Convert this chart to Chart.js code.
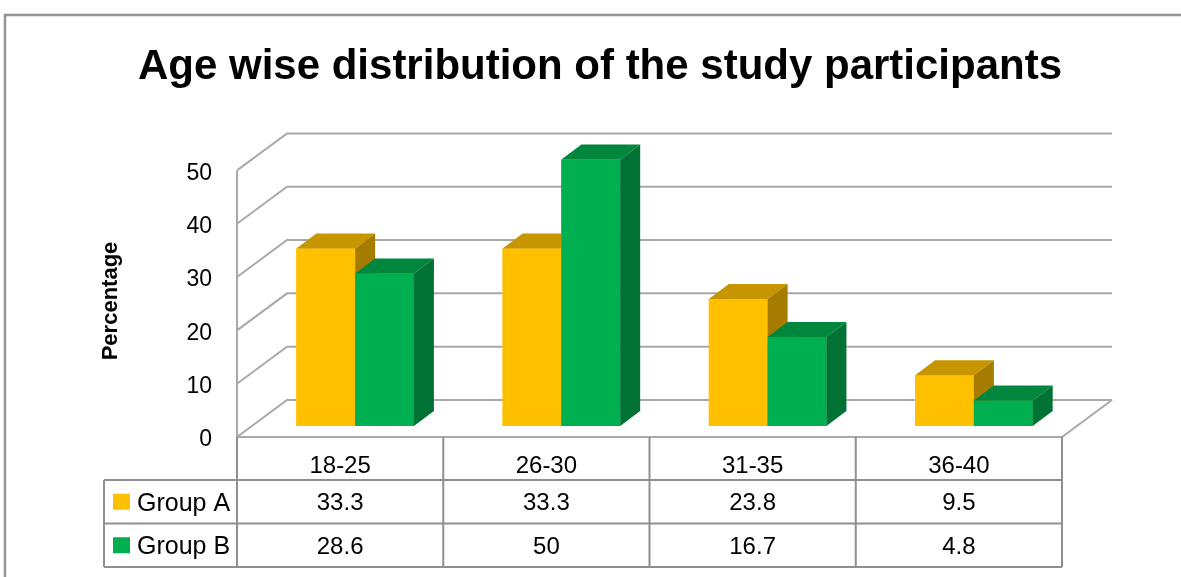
<!DOCTYPE html>
<html><head><meta charset="utf-8">
<script src="https://cdn.jsdelivr.net/npm/chart.js@4"></script>
<style>html,body{margin:0;padding:0;background:#fff;} #wrap{width:1181px;height:577px;position:relative;}</style>
</head><body><div id="wrap"><canvas id="c" width="1181" height="577"></canvas></div>
<script>
// ---- data ----
const titleText = 'Age wise distribution of the study participants';
const yTitleText = 'Percentage';
const categories = ['18-25', '26-30', '31-35', '36-40'];
const seriesNames = ['Group A', 'Group B'];
const groupA = [33.3, 33.3, 23.8, 9.5];
const groupB = [28.6, 50, 16.7, 4.8];
const yTicks = [0, 10, 20, 30, 40, 50];

// ---- style ----
const FONT = "'Liberation Sans', Arial, sans-serif";
const FR = {dx: -15, dy: 11};   // front plane offset from bar plane
const BK = {dx: 35, dy: -26};   // back wall offset from bar plane
const DP = {dx: 20, dy: -15};   // bar depth
const COLORS = {
  front: ['#FFC000', '#00B050'],
  top: ['#C69500', '#00863D'],
  side: ['#A67C00', '#007233']
};
const GRID = '#a9a9a9';
const TABLE = '#8f8f8f';

const threeD = {
  id: 'threeD',
  beforeDatasetsDraw(chart) {
    const {ctx, chartArea: a, scales: {y}} = chart;
    ctx.save();
    ctx.strokeStyle = GRID; ctx.lineWidth = 2;
    yTicks.forEach(v => {
      const py = y.getPixelForValue(v);
      ctx.beginPath();
      ctx.moveTo(a.left + FR.dx, py + FR.dy);
      ctx.lineTo(a.left + BK.dx, py + BK.dy);
      ctx.lineTo(a.right + BK.dx, py + BK.dy);
      ctx.stroke();
    });
    const y0 = y.getPixelForValue(0), yT = y.getPixelForValue(yTicks[yTicks.length - 1]);
    ctx.beginPath();
    ctx.moveTo(a.left + FR.dx, yT + FR.dy);
    ctx.lineTo(a.left + FR.dx, y0 + FR.dy);
    ctx.lineTo(a.right + FR.dx, y0 + FR.dy);
    ctx.lineTo(a.right + BK.dx, y0 + BK.dy);
    ctx.stroke();
    ctx.restore();
  },
  afterDatasetsDraw(chart) {
    const {ctx} = chart;
    const metas = [chart.getDatasetMeta(0), chart.getDatasetMeta(1)];
    ctx.save();
    for (let i = 0; i < categories.length; i++) {
      metas.forEach((m, d) => {
        const el = m.data[i];
        const p = el.getProps(['x', 'y', 'base', 'width'], true);
        const l = p.x - p.width / 2, r = p.x + p.width / 2, ty = p.y, base = p.base;
        ctx.fillStyle = COLORS.front[d];
        ctx.fillRect(l, ty, p.width, base - ty);
        ctx.fillStyle = COLORS.top[d];
        ctx.beginPath();
        ctx.moveTo(l, ty); ctx.lineTo(r, ty); ctx.lineTo(r + DP.dx, ty + DP.dy); ctx.lineTo(l + DP.dx, ty + DP.dy);
        ctx.closePath(); ctx.fill();
        ctx.fillStyle = COLORS.side[d];
        ctx.beginPath();
        ctx.moveTo(r, ty); ctx.lineTo(r + DP.dx, ty + DP.dy); ctx.lineTo(r + DP.dx, base + DP.dy); ctx.lineTo(r, base);
        ctx.closePath(); ctx.fill();
      });
    }
    ctx.restore();
  },
  afterDraw(chart) {
    const {ctx, scales: {x, y}} = chart;
    ctx.save();
    // outer border
    ctx.strokeStyle = '#959595'; ctx.lineWidth = 2.5;
    ctx.beginPath(); ctx.moveTo(5, 577); ctx.lineTo(5, 15); ctx.lineTo(1181, 15); ctx.stroke();

    // data table
    const F = y.getPixelForValue(0) + FR.dy;
    const half = (x.getPixelForValue(1) - x.getPixelForValue(0)) / 2;
    const edges = categories.map((c, i) => x.getPixelForValue(i) - half + FR.dx);
    edges.push(x.getPixelForValue(categories.length - 1) + half + FR.dx);
    const rows = [F + 43, F + 86.5, F + 130];
    const legL = 104;
    ctx.strokeStyle = TABLE; ctx.lineWidth = 2;
    ctx.beginPath();
    edges.forEach(ex => { ctx.moveTo(ex, F); ctx.lineTo(ex, rows[2]); });
    ctx.moveTo(legL, rows[0]); ctx.lineTo(legL, rows[2]);
    rows.forEach(ry => { ctx.moveTo(legL, ry); ctx.lineTo(edges[edges.length - 1], ry); });
    ctx.stroke();

    const series = [groupA, groupB];
    ctx.textBaseline = 'middle';
    series.forEach((vals, d) => {
      const cy = (rows[d] + rows[d + 1]) / 2;
      ctx.font = '24px ' + FONT;
      ctx.textAlign = 'center';
      ctx.fillStyle = '#000';
      vals.forEach((v, i) => ctx.fillText(String(v), x.getPixelForValue(i) + FR.dx, cy + 2));
      ctx.fillStyle = COLORS.front[d];
      ctx.fillRect(113, cy - 8, 17, 16);
      ctx.fillStyle = '#000';
      ctx.textAlign = 'left';
      ctx.font = '25px ' + FONT;
      ctx.fillText(seriesNames[d], 137, cy + 2);
    });

    // y title
    ctx.translate(111, 301);
    ctx.rotate(-Math.PI / 2);
    ctx.font = 'bold 22px ' + FONT;
    ctx.textAlign = 'center';
    ctx.fillText(yTitleText, 0, 0);
    ctx.restore();
  }
};

new Chart(document.getElementById('c'), {
  type: 'bar',
  data: {
    labels: categories,
    datasets: [
      {label: seriesNames[0], data: groupA, backgroundColor: COLORS.front[0]},
      {label: seriesNames[1], data: groupB, backgroundColor: COLORS.front[1]}
    ]
  },
  options: {
    responsive: false,
    animation: false,
    layout: {padding: {left: 123, right: 104, top: 0, bottom: 71}},
    datasets: {bar: {categoryPercentage: 0.57, barPercentage: 1}},
    plugins: {
      legend: {display: false},
      tooltip: {enabled: false},
      title: {
        display: true, text: titleText, color: '#000',
        font: {family: FONT, size: 42, weight: 'bold'},
        padding: {top: 42, bottom: 67}
      }
    },
    scales: {
      x: {
        grid: {display: false, drawTicks: false},
        border: {display: false},
        ticks: {color: '#000', font: {family: FONT, size: 24}, padding: 26, labelOffset: -15, maxRotation: 0, autoSkip: false},
        afterFit(s) { s.height = 80; }
      },
      y: {
        min: 0, max: 50,
        grid: {display: false, drawTicks: false},
        border: {display: false},
        ticks: {color: '#000', font: {family: FONT, size: 23}, padding: 40, labelOffset: 14},
        afterBuildTicks(s) { s.ticks = yTicks.map(v => ({value: v})); },
        afterFit(s) { s.width = 129; }
      }
    }
  },
  plugins: [threeD]
});
</script>
</body></html>
